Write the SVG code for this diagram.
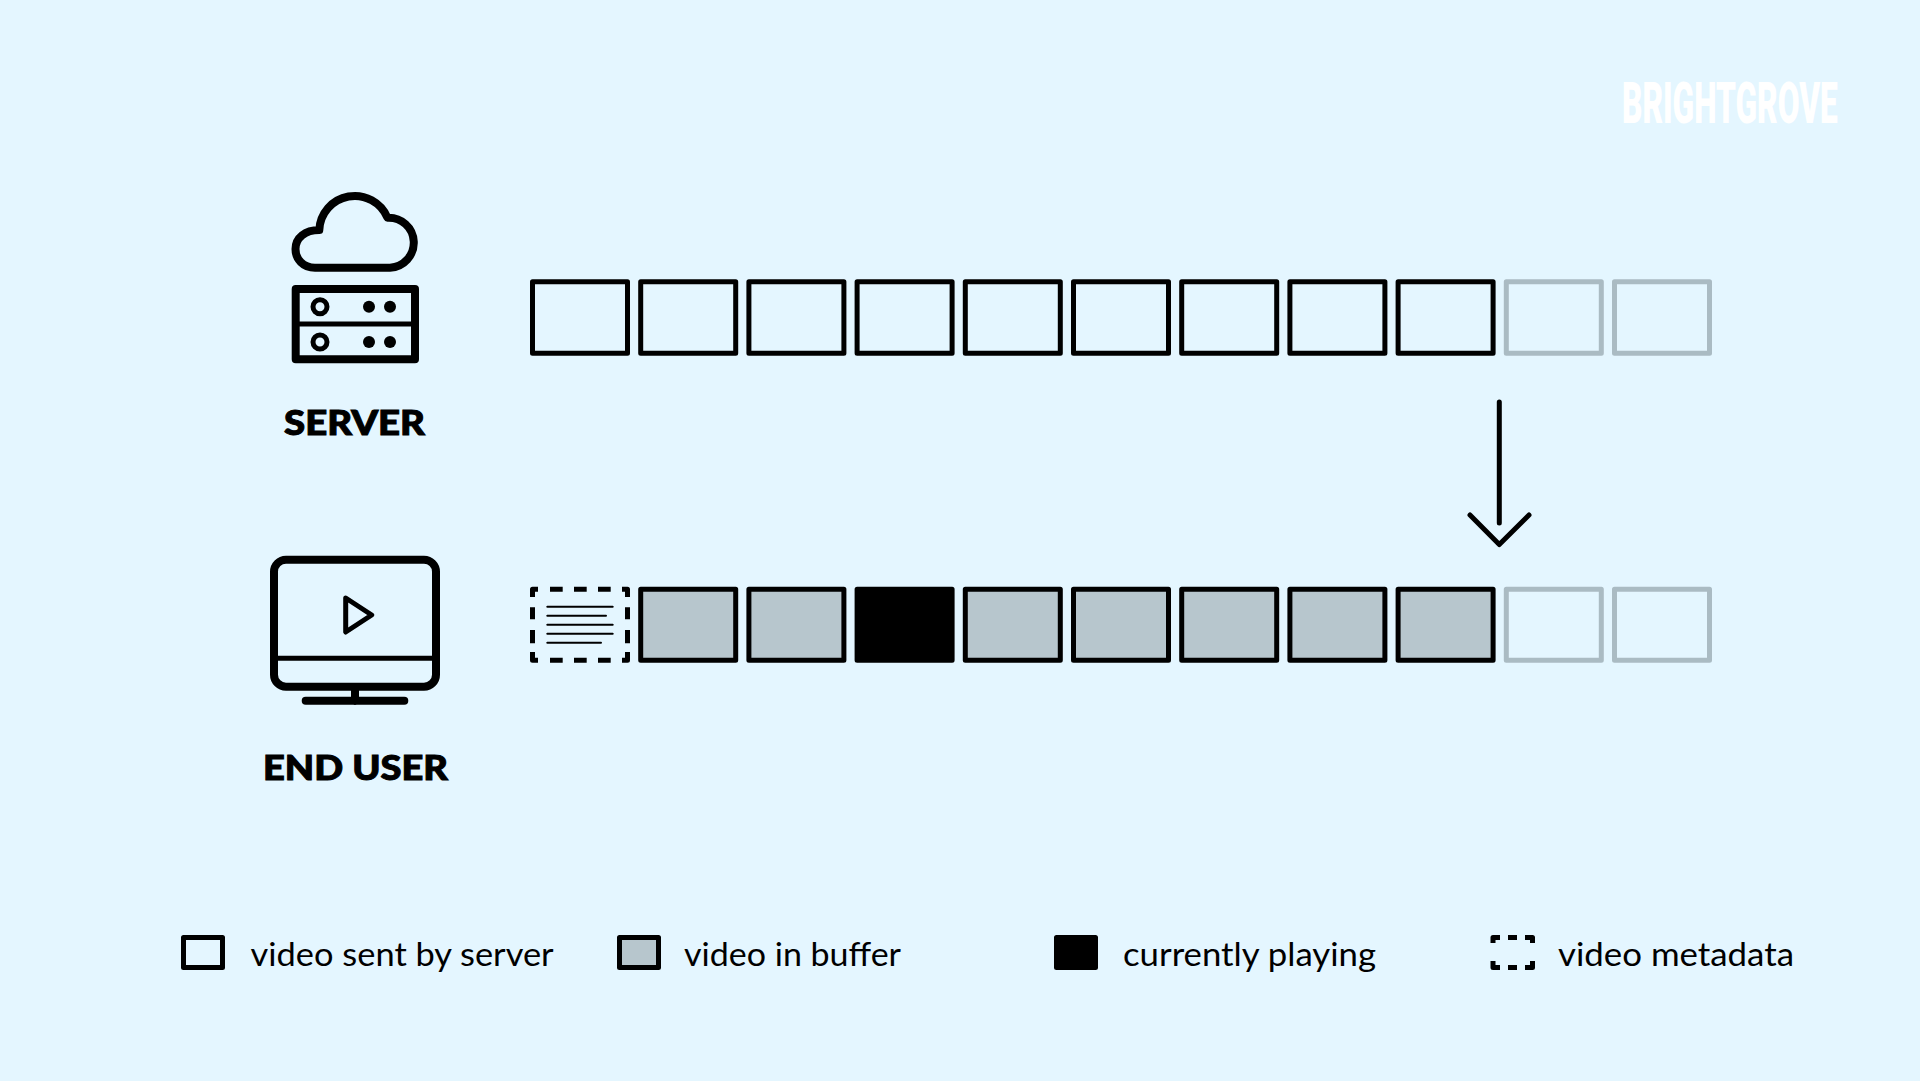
<svg xmlns="http://www.w3.org/2000/svg" width="1920" height="1081" viewBox="0 0 1920 1081">
<style>
text{font-family:"Lato","Liberation Sans",sans-serif;fill:#000}
.title{font-size:34px;font-weight:900;stroke:#000;stroke-width:1}
.leg{font-size:32px;font-weight:400}
.logo{font-family:"Roboto","Liberation Sans",sans-serif;font-size:58px;font-weight:900;fill:#fff}
.ln{fill:none;stroke:#000;stroke-linecap:round;stroke-linejoin:round}
.box{stroke:#000;stroke-width:5;stroke-linejoin:round;fill:none}
.pale{stroke:#AABBC3;fill:none}
.buf{fill:#B7C6CD}
.play{fill:#000}
.dash{fill:none;stroke:#000;stroke-width:5;stroke-linejoin:round}
</style>
<rect id="background" width="1920" height="1081" fill="#E4F6FF"/>
<g id="logo"><text class="logo" transform="translate(1622 123) scale(0.58 1)" x="0" y="0" textLength="372" lengthAdjust="spacingAndGlyphs">BRIGHTGROVE</text></g>

<g id="server">
<path class="ln" stroke-width="8" d="M315 267.7H390A25 25 0 0 0 387.5 217.7A35.5 35.5 0 0 0 319.3 230C305 230 295.5 238 295.5 249C295.5 259 303 267.7 315 267.7Z"/>
<rect class="ln" stroke-width="8" x="295.7" y="289" width="119.3" height="70.3"/>
<path class="ln" stroke-width="5" d="M296 324H415"/>
<circle class="ln" stroke-width="5" cx="320" cy="306.7" r="7"/>
<circle class="ln" stroke-width="5" cx="320" cy="342" r="7"/>
<circle cx="369" cy="306.7" r="6"/><circle cx="390" cy="306.7" r="6"/>
<circle cx="369" cy="342" r="6"/><circle cx="390" cy="342" r="6"/>
<text class="title" x="284" y="435" textLength="141" lengthAdjust="spacingAndGlyphs">SERVER</text>
</g>

<g id="end-user">
<rect class="ln" stroke-width="8" x="274" y="559.7" width="162" height="127" rx="12"/>
<path class="ln" stroke-width="5" d="M275 658.3H435"/>
<path class="ln" stroke-width="8" d="M355 688V701M305.7 700.7H404.3"/>
<path class="ln" stroke-width="5" d="M345.7 598L371.7 615L345.7 632Z"/>
<text class="title" x="263" y="780" textLength="185" lengthAdjust="spacingAndGlyphs">END USER</text>
</g>

<g id="server-row">
<rect id="s1" class="box" x="532.5" y="281.8" width="95" height="71.5"/>
<rect id="s2" class="box" x="640.7" y="281.8" width="95" height="71.5"/>
<rect id="s3" class="box" x="748.9" y="281.8" width="95" height="71.5"/>
<rect id="s4" class="box" x="857.1" y="281.8" width="95" height="71.5"/>
<rect id="s5" class="box" x="965.3" y="281.8" width="95" height="71.5"/>
<rect id="s6" class="box" x="1073.5" y="281.8" width="95" height="71.5"/>
<rect id="s7" class="box" x="1181.7" y="281.8" width="95" height="71.5"/>
<rect id="s8" class="box" x="1289.9" y="281.8" width="95" height="71.5"/>
<rect id="s9" class="box" x="1398.1" y="281.8" width="95" height="71.5"/>
<rect id="s10" class="box pale" x="1506.3" y="281.8" width="95" height="71.5"/>
<rect id="s11" class="box pale" x="1614.5" y="281.8" width="95" height="71.5"/>
</g>

<g id="user-row">
<g id="u1">
<path class="dash" d="M532.5 597V589.2H538M550 589.2H562.7M574 589.2H586.7M598 589.2H610.7M622 589.2H627.5V597M627.5 607.3V619.3M627.5 630V643.3M627.5 652V660.2H622M610.7 660.2H598M586.7 660.2H574M562.7 660.2H550M538 660.2H532.5V652M532.5 643.3V630M532.5 619.3V607.3"/>
<path class="ln" stroke-width="2" d="M547.3 606.7H612.7M547.3 615.7H606M547.3 624.7H612.7M547.3 633.7H612.7M547.3 642.7H601"/>
</g>
<rect id="u2" class="box buf" x="640.7" y="589.2" width="95" height="71"/>
<rect id="u3" class="box buf" x="748.9" y="589.2" width="95" height="71"/>
<rect id="u4" class="box play" x="857.1" y="589.2" width="95" height="71"/>
<rect id="u5" class="box buf" x="965.3" y="589.2" width="95" height="71"/>
<rect id="u6" class="box buf" x="1073.5" y="589.2" width="95" height="71"/>
<rect id="u7" class="box buf" x="1181.7" y="589.2" width="95" height="71"/>
<rect id="u8" class="box buf" x="1289.9" y="589.2" width="95" height="71"/>
<rect id="u9" class="box buf" x="1398.1" y="589.2" width="95" height="71"/>
<rect id="u10" class="box pale" x="1506.3" y="589.2" width="95" height="71"/>
<rect id="u11" class="box pale" x="1614.5" y="589.2" width="95" height="71"/>
</g>

<g id="connectors">
<path class="ln" stroke-width="5" d="M1499.3 402V523M1470 515L1499.3 544.5L1529 515"/>
</g>

<g id="legend">
<g id="legend-sent"><rect class="box" x="183.5" y="937.5" width="39" height="30"/><text class="leg" x="250.6" y="966" textLength="303" lengthAdjust="spacingAndGlyphs">video sent by server</text></g>
<g id="legend-buffer"><rect class="box buf" x="619.5" y="937.5" width="39" height="30"/><text class="leg" x="684" y="966" textLength="217" lengthAdjust="spacingAndGlyphs">video in buffer</text></g>
<g id="legend-playing"><rect class="box play" x="1056.5" y="937.5" width="39" height="30"/><text class="leg" x="1123" y="966" textLength="253" lengthAdjust="spacingAndGlyphs">currently playing</text></g>
<g id="legend-meta"><path class="dash" d="M1493 943V937.5H1500M1508 937.5H1517M1525 937.5H1532.5V943M1532.5 961V967.5H1525M1517 967.5H1508M1500 967.5H1493V961"/><text class="leg" x="1558" y="966" textLength="236" lengthAdjust="spacingAndGlyphs">video metadata</text></g>
</g>
</svg>
